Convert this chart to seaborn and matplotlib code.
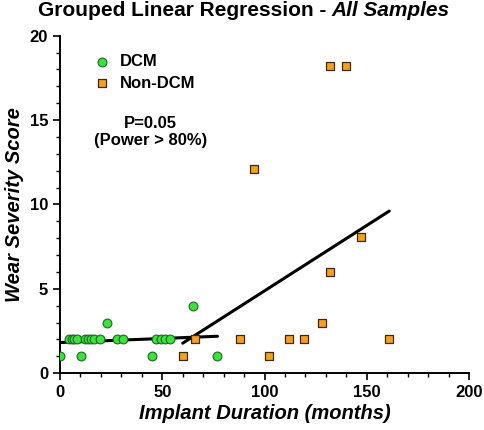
import numpy as np
import pandas as pd
import seaborn as sns
import matplotlib.pyplot as plt
from matplotlib.ticker import MultipleLocator

# DCM samples
dcm_months = [0, 4.5, 5.8, 7, 8.3, 10.5, 12, 13.5, 15, 16.5, 19.5, 23, 28, 31,
              45, 47, 49.5, 51.5, 54, 65, 77]
dcm_score = [1, 2, 2, 2, 2, 1, 2, 2, 2, 2, 2, 3, 2, 2,
             1, 2, 2, 2, 2, 4, 1]

# Non-DCM samples
nondcm_months = [60, 66, 88, 95, 102, 112, 119.5, 128, 132, 132, 140, 147, 161]
nondcm_score = [1, 2, 2, 12.1, 1, 2, 2, 3, 6, 18.2, 18.2, 8.1, 2]

dcm = pd.DataFrame({'months': dcm_months, 'score': dcm_score})
nondcm = pd.DataFrame({'months': nondcm_months, 'score': nondcm_score})

sns.set_style('ticks')
plt.rcParams['font.family'] = ['Liberation Sans', 'DejaVu Sans']
plt.rcParams['text.color'] = 'black'
plt.rcParams['axes.labelcolor'] = 'black'
plt.rcParams['xtick.color'] = 'black'
plt.rcParams['ytick.color'] = 'black'

fig = plt.figure(figsize=(4.84, 4.30), dpi=100)
ax = fig.add_axes([0.124, 0.132, 0.845, 0.785])

# regression lines per group
sns.regplot(data=dcm, x='months', y='score', ci=None, scatter=False, ax=ax,
            line_kws={'color': 'black', 'lw': 2.2})
sns.regplot(data=nondcm, x='months', y='score', ci=None, scatter=False, ax=ax,
            line_kws={'color': 'black', 'lw': 2.2})

sns.scatterplot(data=dcm, x='months', y='score', ax=ax, marker='o', s=40,
                color='#3ee03e', edgecolor='#1a6a1a', linewidth=0.8, label='DCM', zorder=3)
sns.scatterplot(data=nondcm, x='months', y='score', ax=ax, marker='s', s=40,
                color='#f5a01e', edgecolor='#3a2a10', linewidth=0.9, label='Non-DCM', zorder=3)

ax.set_xlim(0, 200)
ax.set_ylim(0, 20)
ax.xaxis.set_major_locator(MultipleLocator(50))
ax.xaxis.set_minor_locator(MultipleLocator(10))
ax.yaxis.set_major_locator(MultipleLocator(5))
ax.yaxis.set_minor_locator(MultipleLocator(1))
ax.tick_params(which='major', length=5, width=1.2, labelsize=12, direction='out')
ax.tick_params(which='minor', length=3, width=1.0, direction='out')
for lab in ax.get_xticklabels() + ax.get_yticklabels():
    lab.set_fontweight('bold')
sns.despine(ax=ax)
for s in ['left', 'bottom']:
    ax.spines[s].set_linewidth(1.4)
    ax.spines[s].set_color('black')

ax.set_xlabel('Implant Duration (months)', fontsize=14.5, fontweight='bold',
              style='italic', labelpad=3)
ax.set_ylabel('Wear Severity Score', fontsize=14.5, fontweight='bold',
              style='italic', labelpad=4)

leg = ax.legend(loc='upper left', bbox_to_anchor=(0.025, 0.99), frameon=False,
                prop={'weight': 'bold', 'size': 12}, handletextpad=0.1,
                labelspacing=0.4, markerscale=1.0)

ax.text(0.222, 0.715, 'P=0.05\n(Power > 80%)', transform=ax.transAxes,
        ha='center', va='center', fontsize=12, fontweight='bold', linespacing=1.15)

t1 = fig.text(0.078, 0.963, 'Grouped Linear Regression - ', fontsize=15,
              fontweight='bold', ha='left', va='baseline')
ax.annotate('All Samples', xy=(1, 0), xycoords=t1, va='bottom', ha='left',
            fontsize=15, fontweight='bold', style='italic')

fig.savefig('out.png', dpi=100)
